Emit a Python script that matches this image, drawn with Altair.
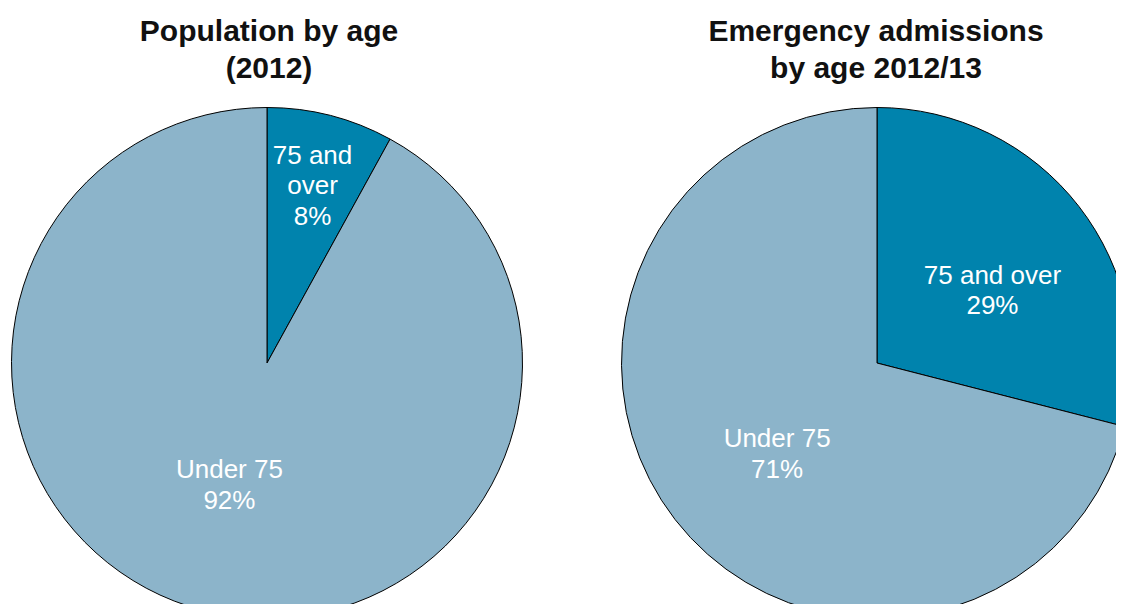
import altair as alt
import pandas as pd

# Data
groups = ["75 and over", "Under 75"]
pop_values = [8, 92]
adm_values = [29, 71]
pop_labels = ["75 and\nover\n8%", "Under 75\n92%"]
adm_labels = ["75 and over\n29%", "Under 75\n71%"]
titles = ["Population by age\n(2012)", "Emergency admissions\nby age 2012/13"]

DARK = "#0083AD"
LIGHT = "#8CB4CA"
FONT = "Liberation Sans"

pop_df = pd.DataFrame({"group": groups, "value": pop_values, "label": pop_labels, "idx": [0, 1]})
adm_df = pd.DataFrame({"group": groups, "value": adm_values, "label": adm_labels, "idx": [0, 1]})

color = alt.Color("group:N", scale=alt.Scale(domain=groups, range=[DARK, LIGHT]), legend=None)
order = alt.Order("idx:Q", sort="ascending")

R = 255.5
CX1, CX2, CY = 259, 869, 355


def pie(df, cx):
    return alt.Chart(df).mark_arc(radius=R, stroke="#000000", strokeWidth=1).encode(
        theta=alt.Theta("value:Q", stack=True),
        color=color,
        order=order,
        x=alt.value(cx),
        y=alt.value(CY),
    )


def label(df, cx, grp, radius, dx=0, dy=0):
    return alt.Chart(df).mark_text(
        radius=radius, color="white", font=FONT, fontSize=26, lineBreak="\n",
        lineHeight=30.5, align="center", baseline="middle", dx=dx, dy=dy,
    ).encode(
        theta=alt.Theta("value:Q", stack=True),
        detail="group:N",
        order=order,
        text="label:N",
        x=alt.value(cx),
        y=alt.value(CY),
        opacity=alt.condition(alt.datum.group == grp, alt.value(1), alt.value(0)),
    )


title_df = pd.DataFrame({"title": titles, "pos": [0, 1]})


def title(pos, x):
    return alt.Chart(title_df).transform_filter(alt.datum.pos == pos).mark_text(
        font=FONT, fontSize=30, fontWeight="bold", color="#111111", lineBreak="\n",
        lineHeight=37, align="center", baseline="middle",
    ).encode(text="title:N", x=alt.value(x), y=alt.value(24))


chart = alt.layer(
    pie(pop_df, CX1),
    pie(adm_df, CX2),
    label(pop_df, CX1, "75 and over", 183, dy=-30),
    label(pop_df, CX1, "Under 75", 127, dx=-6, dy=-16),
    label(adm_df, CX2, "75 and over", 136, dx=8, dy=-4),
    label(adm_df, CX2, "Under 75", 134, dx=6, dy=-6),
    title(0, 261),
    title(1, 868),
).resolve_scale(theta="independent").properties(
    width=1108, height=596, padding=0, autosize=alt.AutoSizeParams(type="none")
).configure_view(strokeWidth=0)

chart.save("out.html", embed_options={"renderer": "svg", "actions": False})
